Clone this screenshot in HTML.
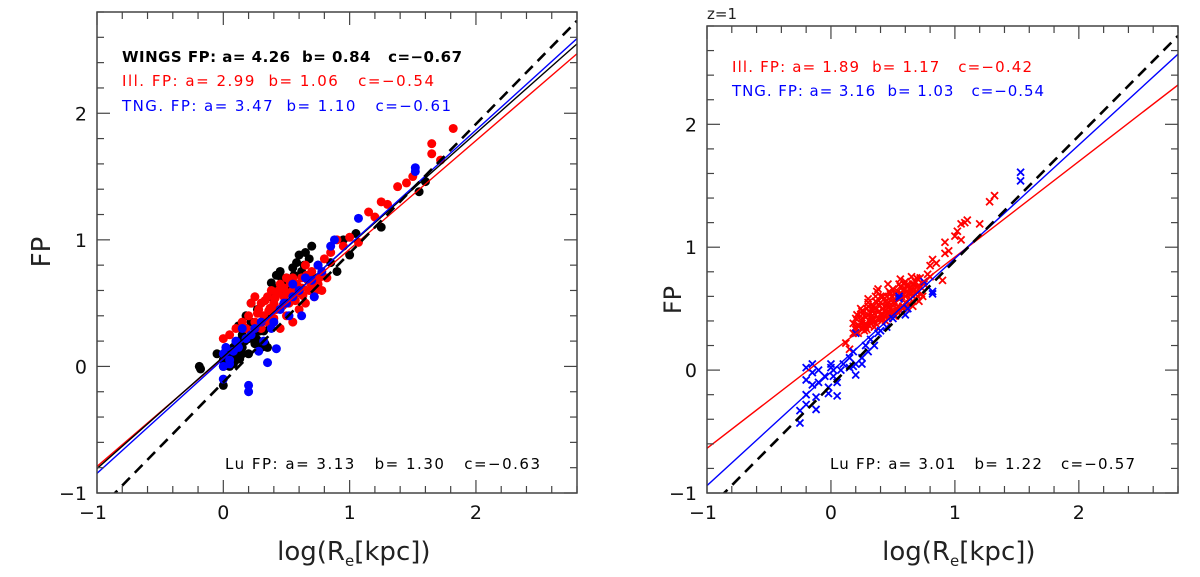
<!DOCTYPE html>
<html><head><meta charset="utf-8"><style>
html,body{margin:0;padding:0;background:#fff;}
svg{display:block;font-family:"DejaVu Sans","Liberation Sans",sans-serif;}
text{white-space:pre;}
</style></head><body>
<svg id="fig" width="1200" height="577" viewBox="0 0 1200 577" xmlns="http://www.w3.org/2000/svg"></svg>
<script>
// ---------- data ----------
const xTicks = [-1, 0, 1, 2];
const yTicks = [-1, 0, 1, 2];
// fit lines: [slope, intercept]
const leftDashed = [1.02, -0.125];
const leftBlack = [0.883, 0.076];
const leftRed = [0.858, 0.068];
const leftBlue = [0.904, 0.059];
const rightDashed = [1.016, -0.125];
const rightRed = [0.778, 0.142];
const rightBlue = [0.924, -0.016];

const wingsX = [-0.18,-0.19,-0.05,0,0.02,0.05,0.08,0.1,0.12,0.15,0.15,0.18,0.2,0.22,0.25,0.28,0.3,0.32,0.35,0.38,0.4,0.42,0.45,0.5,0.55,0.58,0.6,0.65,0.7,0.75,0.78,0.9,0.95,1.0,1.05,1.25,1.55,1.6,0.0,0.05,0.1,0.2,0.25,0.3,0.12,0.18,0.35,0.4,0.48,0.52,0.62,0.68,0.08,0.02,0.22,0.27,0.0,0.03,0.07,0.13,0.17,0.24,0.29,0.33,0.37,0.43,0.46,0.38,0.44,0.56,0.64,0.72,0.85,0.1,0.15,0.26];
const wingsY = [-0.02,0.0,0.1,0.05,0.12,0.08,0.15,0.1,0.2,0.25,0.1,0.3,0.22,0.35,0.3,0.2,0.15,0.28,0.4,0.55,0.6,0.72,0.75,0.7,0.78,0.82,0.88,0.9,0.95,0.8,0.72,0.75,1.0,0.88,1.05,1.1,1.38,1.46,-0.15,0.0,0.05,0.1,0.18,0.35,0.32,0.4,0.15,0.45,0.65,0.6,0.75,0.85,0.02,0.08,0.5,0.45,0.0,0.04,0.12,0.06,0.2,0.24,0.28,0.18,0.32,0.62,0.7,0.66,0.58,0.72,0.8,0.7,0.82,0.18,0.15,0.22];
const illX = [0,0.05,0.1,0.15,0.2,0.22,0.25,0.28,0.3,0.32,0.35,0.38,0.4,0.42,0.45,0.48,0.5,0.52,0.55,0.58,0.6,0.62,0.65,0.68,0.7,0.72,0.75,0.78,0.8,0.82,0.85,0.9,0.95,1.0,1.07,1.15,1.2,1.25,1.3,1.38,1.45,1.5,1.65,1.65,1.72,1.82,0.3,0.35,0.4,0.5,0.55,0.45,0.6,0.65,0.7,0.25,0.18,0.55,0.48,0.62,0.33,0.37,0.43,0.47,0.53,0.57,0.63,0.67,0.73,0.27,0.41,0.59,0.51,0.44,0.36,0.66,0.76];
const illY = [0.22,0.25,0.3,0.35,0.4,0.5,0.55,0.45,0.5,0.4,0.55,0.6,0.5,0.45,0.65,0.55,0.7,0.5,0.6,0.65,0.45,0.7,0.8,0.6,0.75,0.55,0.65,0.6,0.85,0.7,0.9,1.0,0.95,1.02,0.98,1.22,1.18,1.3,1.28,1.42,1.45,1.5,1.68,1.76,1.63,1.88,0.3,0.35,0.38,0.4,0.35,0.3,0.58,0.5,0.65,0.35,0.3,0.7,0.62,0.62,0.52,0.46,0.58,0.48,0.66,0.52,0.56,0.68,0.6,0.42,0.54,0.62,0.58,0.6,0.44,0.72,0.7];
const tngX = [0,0,0,0.02,0.05,0.08,0.1,0.12,0.15,0.18,0.2,0.2,0.25,0.28,0.3,0.35,0.38,0.4,0.42,0.45,0.5,0.52,0.55,0.6,0.65,0.7,0.72,0.75,0.78,0.85,0.88,1.07,1.52,1.52,0.62,0.55,0.48,0.32,0.22,0.05];
const tngY = [0.1,0.0,-0.1,0.15,0.05,0.12,0.2,0.15,0.3,0.22,-0.15,-0.2,0.3,0.12,0.35,0.03,0.3,0.35,0.14,0.45,0.5,0.4,0.55,0.6,0.7,0.68,0.55,0.8,0.75,0.95,1.0,1.17,1.54,1.57,0.4,0.65,0.5,0.2,0.25,0.02];

const z1RedX = [0.12,0.15,0.18,0.2,0.22,0.25,0.28,0.3,0.32,0.35,0.38,0.4,0.42,0.45,0.48,0.5,0.52,0.55,0.58,0.6,0.62,0.65,0.68,0.7,0.72,0.75,0.78,0.2,0.25,0.3,0.35,0.4,0.45,0.5,0.55,0.6,0.65,0.7,0.75,0.22,0.27,0.33,0.37,0.43,0.47,0.53,0.57,0.63,0.67,0.73,0.18,0.24,0.29,0.34,0.39,0.44,0.49,0.54,0.59,0.64,0.69,0.26,0.31,0.36,0.41,0.46,0.51,0.56,0.61,0.66,0.8,0.82,0.85,0.9,0.92,0.92,0.95,1.0,1.02,1.05,1.08,1.05,1.1,1.2,1.28,1.32,0.38,0.8,
 0.2,0.23,0.26,0.28,0.31,0.33,0.36,0.38,0.41,0.43,0.46,0.48,0.51,0.53,0.56,0.58,0.61,0.63,0.66,0.68,0.71,0.74,0.21,0.24,0.27,0.3,0.33,0.36,0.39,0.42,0.45,0.48,0.51,0.54,0.57,0.6,0.63,0.66,0.69,0.72,0.25,0.29,0.32,0.35,0.4,0.44,0.47,0.5,0.53,0.58,0.62,0.3,0.34,0.37,0.42,0.46,0.52,0.56,0.6,0.65,0.7];
const z1RedY = [0.22,0.17,0.3,0.35,0.3,0.4,0.35,0.45,0.38,0.5,0.42,0.55,0.45,0.6,0.5,0.55,0.62,0.58,0.65,0.6,0.7,0.62,0.72,0.68,0.75,0.7,0.78,0.42,0.48,0.52,0.46,0.6,0.52,0.66,0.7,0.55,0.66,0.6,0.72,0.36,0.32,0.4,0.55,0.48,0.64,0.5,0.62,0.66,0.7,0.62,0.38,0.44,0.5,0.42,0.48,0.56,0.6,0.52,0.7,0.58,0.75,0.36,0.4,0.6,0.42,0.46,0.48,0.68,0.64,0.56,0.76,0.9,0.87,0.73,1.04,0.95,0.97,1.09,1.13,1.06,1.2,1.19,1.22,1.19,1.37,1.42,0.66,0.85,
 0.33,0.36,0.34,0.38,0.36,0.4,0.38,0.42,0.4,0.44,0.42,0.46,0.44,0.48,0.48,0.52,0.5,0.54,0.52,0.58,0.56,0.6,0.45,0.5,0.44,0.55,0.5,0.56,0.52,0.6,0.54,0.62,0.56,0.64,0.6,0.66,0.62,0.7,0.64,0.68,0.38,0.33,0.46,0.35,0.45,0.4,0.55,0.46,0.6,0.5,0.68,0.58,0.52,0.64,0.5,0.7,0.44,0.74,0.72,0.76,0.74];
const z1BlueX = [-0.25,-0.25,-0.2,-0.2,-0.2,-0.2,-0.15,-0.15,-0.15,-0.12,-0.12,-0.1,-0.1,-0.05,-0.02,-0.02,0,0,0.02,0.02,0.05,0.05,0.08,0.1,0.15,0.15,0.18,0.18,0.2,0.2,0.2,0.25,0.25,0.28,0.3,0.32,0.35,0.38,0.4,0.45,0.5,0.55,0.55,0.6,0.62,0.75,0.82,0.82,1.53,1.53];
const z1BlueY = [-0.33,-0.43,-0.28,-0.2,0.02,-0.08,0.05,-0.02,-0.12,-0.22,-0.32,-0.1,0,-0.05,-0.14,-0.19,0.05,0.02,-0.05,0.0,-0.1,-0.21,0.0,0.05,0.1,0.02,0.15,0.03,0.05,-0.04,0.3,0.05,0.1,0.2,0.15,0.25,0.2,0.3,0.32,0.35,0.42,0.6,0.58,0.45,0.5,0.72,0.62,0.64,1.61,1.54];

// ---------- drawing ----------
const NS = "http://www.w3.org/2000/svg";
const svg = document.getElementById('fig');
function mk(tag, attrs, parent) {
  const e = document.createElementNS(NS, tag);
  for (const k in attrs) e.setAttribute(k, attrs[k]);
  (parent || svg).appendChild(e);
  return e;
}
const XMIN = -1, XMAX = 2.8, YMIN = -1, YMAX = 2.8;

function panel(L, T, R, B, name) {
  const g = mk('g', {});
  
  
  const sx = v => L + (v - XMIN) / (XMAX - XMIN) * (R - L);
  const sy = v => B - (v - YMIN) / (YMAX - YMIN) * (B - T);
  const clip = 'clip-' + name;
  const cp = mk('clipPath', {id: clip}, g);
  mk('rect', {x: L, y: T, width: R - L, height: B - T}, cp);
  const plot = mk('g', {'clip-path': 'url(#' + clip + ')'}, g);
  return {g, sx, sy, plot, L, T, R, B};
}

function axes(p) {
  const {g, sx, sy, L, T, R, B} = p;
  const frame = mk('rect', {x: L, y: T, width: R - L, height: B - T, fill: 'none', stroke: '#444', 'stroke-width': 1.5}, g);
  
  
  for (let i = 0; i <= 19; i++) {
    const v = -1 + i * 0.2;
    if (v > XMAX + 1e-6) break;
    const major = Math.abs(v - Math.round(v)) < 1e-6;
    const len = major ? 13 : 7;
    const x = sx(v);
    mk('line', {x1: x, y1: B, x2: x, y2: B - len, stroke: '#444', 'stroke-width': 1.2}, g);
    mk('line', {x1: x, y1: T, x2: x, y2: T + len, stroke: '#444', 'stroke-width': 1.2}, g);
    const y = sy(v);
    mk('line', {x1: L, y1: y, x2: L + len, y2: y, stroke: '#444', 'stroke-width': 1.2}, g);
    mk('line', {x1: R, y1: y, x2: R - len, y2: y, stroke: '#444', 'stroke-width': 1.2}, g);
  }
  xTicks.forEach(v => {
    const t = mk('text', {x: sx(v) + (v < 0 ? -4 : 0), y: B + 26, 'text-anchor': 'middle', 'font-size': 19, fill: '#111'}, g);
    t.textContent = v < 0 ? '\u2212' + Math.abs(v) : String(v);
    
    
  });
  yTicks.forEach(v => {
    const t = mk('text', {x: L - 10, y: sy(v) + 7, 'text-anchor': 'end', 'font-size': 19, fill: '#111'}, g);
    t.textContent = v < 0 ? '\u2212' + Math.abs(v) : String(v);
    
    
  });
}

function fitLine(p, fit, color, dashed, name) {
  const l = mk('line', {x1: p.sx(XMIN), y1: p.sy(fit[0] * XMIN + fit[1]), x2: p.sx(XMAX), y2: p.sy(fit[0] * XMAX + fit[1]),
    stroke: color, 'stroke-width': dashed ? 2.6 : 1.4, 'stroke-dasharray': dashed ? '11,7' : 'none'}, p.plot);
  
  
}
function dots(p, xs, ys, color, name) {
  for (let i = 0; i < xs.length; i++) {
    const c = mk('circle', {cx: p.sx(xs[i]), cy: p.sy(ys[i]), r: 4.5, fill: color}, p.plot);
    
    
  }
}
function crosses(p, xs, ys, color, name) {
  for (let i = 0; i < xs.length; i++) {
    const x = p.sx(xs[i]), y = p.sy(ys[i]), s = 3.5;
    const c = mk('path', {d: `M${x-s},${y-s}L${x+s},${y+s}M${x-s},${y+s}L${x+s},${y-s}`, stroke: color, 'stroke-width': 1.8}, p.plot);
    
    
  }
}
function label(parent, x, y, txt, color, size, weight, name, extra) {
  const t = mk('text', Object.assign({x, y, fill: color, 'font-size': size, 'font-weight': weight}, extra || {}), parent);
  t.textContent = txt;
  
  
  return t;
}

// Left panel
const P1 = panel(97, 12, 577, 493, 'left-panel');
dots(P1, wingsX, wingsY, '#000', 'wings-point');
dots(P1, illX, illY, '#f00', 'illustris-point');
dots(P1, tngX, tngY, '#00f', 'tng-point');
fitLine(P1, leftRed, '#f00', false, 'illustris-fit-line');
fitLine(P1, leftBlack, '#000', false, 'wings-fit-line');
fitLine(P1, leftBlue, '#00f', false, 'tng-fit-line');
fitLine(P1, leftDashed, '#000', true, 'lu-fp-dashed-line');
axes(P1);
label(P1.g, 122, 62, 'WINGS FP: a= 4.26  b= 0.84   c=\u22120.67', '#000', 15, 'bold', 'wings-fp-annotation', {textLength: 340});
label(P1.g, 122, 86, 'Ill. FP: a= 2.99  b= 1.06   c=\u22120.54', '#f00', 15, 'normal', 'illustris-fp-annotation', {textLength: 312});
label(P1.g, 122, 111, 'TNG. FP: a= 3.47  b= 1.10   c=\u22120.61', '#00f', 15, 'normal', 'tng-fp-annotation', {textLength: 329});
label(P1.g, 225, 469, 'Lu FP: a= 3.13   b= 1.30   c=\u22120.63', '#000', 15, 'normal', 'lu-fp-annotation', {textLength: 315});
label(P1.g, 345, 560, 'log(R', '#222', 26, 'normal', 'x-axis-title', {'text-anchor': 'end'});
const xt1 = label(P1.g, 345, 560, '', '#222', 26, 'normal', 'x-axis-title-rest');
xt1.innerHTML = '<tspan font-size="15" dy="6">e</tspan><tspan dy="-6">[kpc])</tspan>';
label(P1.g, 50, 252, 'FP', '#222', 26, 'normal', 'y-axis-title', {transform: 'rotate(-90 50 252)', 'text-anchor': 'middle'});

// Right panel
const P2 = panel(707, 26, 1178, 493, 'right-panel');
crosses(P2, z1RedX, z1RedY, '#f00', 'illustris-z1-point');
crosses(P2, z1BlueX, z1BlueY, '#00f', 'tng-z1-point');
fitLine(P2, rightRed, '#f00', false, 'illustris-z1-fit-line');
fitLine(P2, rightBlue, '#00f', false, 'tng-z1-fit-line');
fitLine(P2, rightDashed, '#000', true, 'lu-fp-z1-dashed-line');
axes(P2);
label(P2.g, 707, 19, 'z=1', '#222', 15, 'normal', 'redshift-label');
label(P2.g, 732, 72, 'Ill. FP: a= 1.89  b= 1.17   c=\u22120.42', '#f00', 15, 'normal', 'illustris-z1-annotation', {textLength: 300});
label(P2.g, 732, 96, 'TNG. FP: a= 3.16  b= 1.03   c=\u22120.54', '#00f', 15, 'normal', 'tng-z1-annotation', {textLength: 312});
label(P2.g, 830, 469, 'Lu FP: a= 3.01   b= 1.22   c=\u22120.57', '#000', 15, 'normal', 'lu-fp-z1-annotation', {textLength: 305});
label(P2.g, 950, 560, 'log(R', '#222', 26, 'normal', 'x-axis-title-right', {'text-anchor': 'end'});
const xt2 = label(P2.g, 950, 560, '', '#222', 26, 'normal', 'x-axis-title-right-rest');
xt2.innerHTML = '<tspan font-size="15" dy="6">e</tspan><tspan dy="-6">[kpc])</tspan>';
label(P2.g, 681, 300, 'FP', '#222', 24, 'normal', 'y-axis-title-right', {transform: 'rotate(-90 681 300)', 'text-anchor': 'middle'});
</script>
</body></html>
